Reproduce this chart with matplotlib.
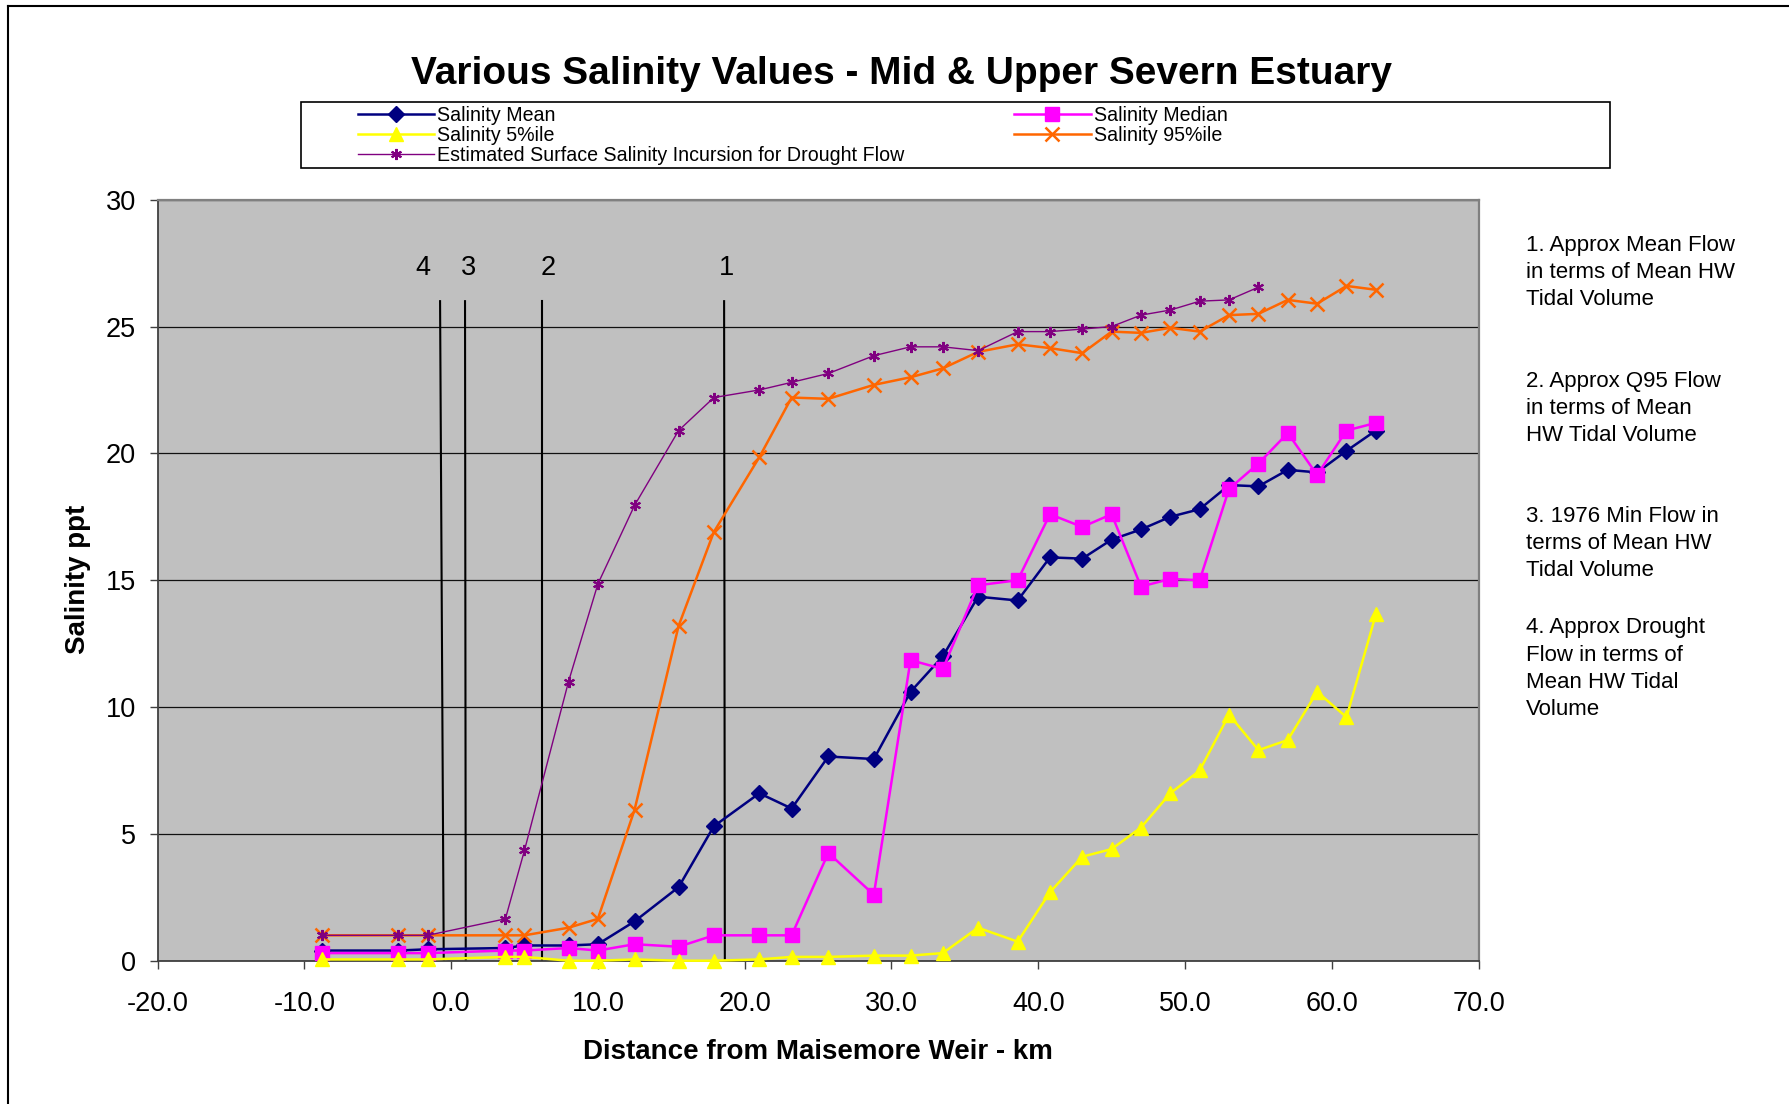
import matplotlib
matplotlib.use('Agg')
import matplotlib.pyplot as plt
from matplotlib.lines import Line2D
from matplotlib.patches import Rectangle

plt.rcParams['font.family'] = ['Liberation Sans', 'DejaVu Sans']

# distance from Maisemore Weir (km)
dist = [-8.8, -3.6, -1.6, 3.7, 5.0, 8.0, 10.0, 12.5, 15.5, 17.9, 21.0, 23.2, 25.7, 28.8, 31.3,
        33.5, 35.9, 38.6, 40.8, 43.0, 45.0, 47.0, 49.0, 51.0, 53.0, 55.0, 57.0, 59.0, 61.0, 63.0]

sal_mean = [0.4, 0.4, 0.45, 0.5, 0.6, 0.6, 0.65, 1.55, 2.9, 5.3, 6.6, 6.0, 8.05, 7.95, 10.6,
            12.0, 14.35, 14.2, 15.9, 15.85, 16.6, 17.0, 17.5, 17.8, 18.75, 18.7, 19.35, 19.25, 20.1, 20.9]
sal_median = [0.3, 0.3, 0.3, 0.4, 0.4, 0.5, 0.4, 0.65, 0.55, 1.0, 1.0, 1.0, 4.25, 2.6, 11.85,
              11.5, 14.8, 15.0, 17.6, 17.1, 17.6, 14.75, 15.05, 15.0, 18.6, 19.6, 20.8, 19.15, 20.9, 21.2]
sal_p5 = [0.05, 0.05, 0.05, 0.15, 0.15, 0.0, 0.0, 0.05, 0.0, 0.0, 0.05, 0.15, 0.15, 0.2, 0.2,
          0.3, 1.3, 0.75, 2.7, 4.1, 4.4, 5.25, 6.6, 7.5, 9.7, 8.3, 8.7, 10.6, 9.6, 13.65]
sal_p95 = [1.0, 1.0, 1.0, 1.0, 1.0, 1.3, 1.65, 5.95, 13.2, 16.9, 19.85, 22.2, 22.15, 22.7, 23.0,
           23.35, 24.0, 24.3, 24.15, 23.95, 24.8, 24.75, 24.95, 24.8, 25.45, 25.5, 26.05, 25.9, 26.6, 26.45]
# drought incursion estimate only goes as far as 55 km
incursion = [1.0, 1.0, 1.0, 1.65, 4.35, 11.0, 14.85, 17.95, 20.9, 22.2, 22.5, 22.8, 23.15, 23.85,
             24.2, 24.2, 24.05, 24.8, 24.8, 24.9, 25.0, 25.45, 25.65, 26.0, 26.05, 26.55]

# flow reference lines 1-4 (x at bottom / top, label position)
flow_ids = ['1', '2', '3', '4']
flow_x_bottom = [18.65, 6.2, 1.0, -0.5]
flow_x_top = [18.6, 6.2, 0.95, -0.75]
flow_top = 26.0
flow_label_x = [18.75, 6.6, 1.2, -1.95]
flow_label_y = 27.3

notes = [
    '1. Approx Mean Flow\nin terms of Mean HW\nTidal Volume',
    '2. Approx Q95 Flow\nin terms of Mean\nHW Tidal Volume',
    '3. 1976 Min Flow in\nterms of Mean HW\nTidal Volume',
    '4. Approx Drought\nFlow in terms of\nMean HW Tidal\nVolume',
]
note_baselines = [252, 388, 522.5, 634.5]  # pixel rows of first line baseline

W, H = 1789, 1104
fig = plt.figure(figsize=(W / 100, H / 100), dpi=100)
ax = fig.add_axes([157.5 / W, 1 - 960.7 / H, 1321.1 / W, 761 / H])
ax.set_facecolor('#C0C0C0')

ax.set_xlim(-20, 70)
ax.set_ylim(0, 30)
ax.set_xticks(range(-20, 71, 10))
ax.set_xticklabels([f'{v:.1f}' for v in range(-20, 71, 10)])
ax.set_yticks(range(0, 31, 5))
ax.set_axisbelow(True)
ax.yaxis.grid(True, color='#111111', lw=0.9)
ax.tick_params(axis='both', direction='out', length=6, width=1, color='#404040',
               labelsize=19.5, labelcolor='black')
ax.tick_params(axis='y', pad=9.5)
ax.tick_params(axis='x', pad=16)
for side in ['left', 'bottom']:
    ax.spines[side].set_color('#404040')
    ax.spines[side].set_linewidth(1.3)
for side in ['top', 'right']:
    ax.spines[side].set_color('#808080')
    ax.spines[side].set_linewidth(1.6)

# flow reference lines
for xb, xt, lab, lx in zip(flow_x_bottom, flow_x_top, flow_ids, flow_label_x):
    ax.plot([xb, xt], [0, flow_top], color='black', lw=1.5, zorder=1.5)
    ax.text(lx, flow_label_y, lab, fontsize=19.5, ha='center', va='center')

h_mean, = ax.plot(dist, sal_mean, color='#000080', lw=1.8, marker='D', ms=8.5,
                  label='Salinity Mean', clip_on=False, zorder=3)
h_med, = ax.plot(dist, sal_median, color='#FF00FF', lw=1.8, marker='s', ms=10,
                 label='Salinity Median', clip_on=False, zorder=3.1)
h_p5, = ax.plot(dist, sal_p5, color='#FFFF00', lw=1.8, marker='^', ms=10.5,
                label='Salinity 5%ile', clip_on=False, zorder=3.2)
h_p95, = ax.plot(dist, sal_p95, color='#FF6600', lw=1.8, marker='x', ms=10, mew=1.8,
                 label='Salinity 95%ile', clip_on=False, zorder=3.3)
h_inc, = ax.plot(dist[:len(incursion)], incursion, color='#800080', lw=1.0, marker=(6, 2, 0),
                 ms=8, mew=1.5, label='Estimated Surface Salinity Incursion for Drought Flow',
                 clip_on=False, zorder=3.4)

ax.set_xlabel('Distance from Maisemore Weir - km', fontsize=20, fontweight='bold')
ax.xaxis.label.set_va('center')
ax.xaxis.set_label_coords(0.5, (960.7 - 1052) / 761)
ax.set_ylabel('Salinity ppt', fontsize=20, fontweight='bold')
ax.yaxis.label.set_va('center')
ax.yaxis.set_label_coords((78.3 - 157.5) / 1321.1, (960.7 - 579) / 761)

fig.text(901 / W, 1 - 74 / H, 'Various Salinity Values - Mid & Upper Severn Estuary',
         fontsize=28, fontweight='bold', ha='center', va='center')

# legend box + legend
fig.add_artist(Rectangle((301 / W, 1 - 167.7 / H), (1610 - 301) / W, (167.7 - 101.5) / H,
                         transform=fig.transFigure, facecolor='white', edgecolor='black',
                         lw=1.2, zorder=0))
fig.legend(handles=[h_mean, h_p5, h_inc, h_med, h_p95], ncol=2, loc='upper left',
           bbox_to_anchor=(358 / W, 1 - 106 / H), frameon=False, fontsize=14.1,
           handlelength=3.9, handletextpad=0.15, columnspacing=5.6, labelspacing=0.05,
           borderpad=0, borderaxespad=0)

for txt, base in zip(notes, note_baselines):
    fig.text(1526 / W, 1 - (base - 17) / H, txt, fontsize=16, ha='left', va='top',
             linespacing=1.39)

# outer chart border (left and top edges visible)
fig.add_artist(Line2D([8 / W, 8 / W], [0, 1 - 6 / H], color='black', lw=1.5,
                      transform=fig.transFigure))
fig.add_artist(Line2D([8 / W, 1], [1 - 6 / H, 1 - 6 / H], color='black', lw=1.5,
                      transform=fig.transFigure))

fig.savefig('out.png', dpi=100, facecolor='white')
